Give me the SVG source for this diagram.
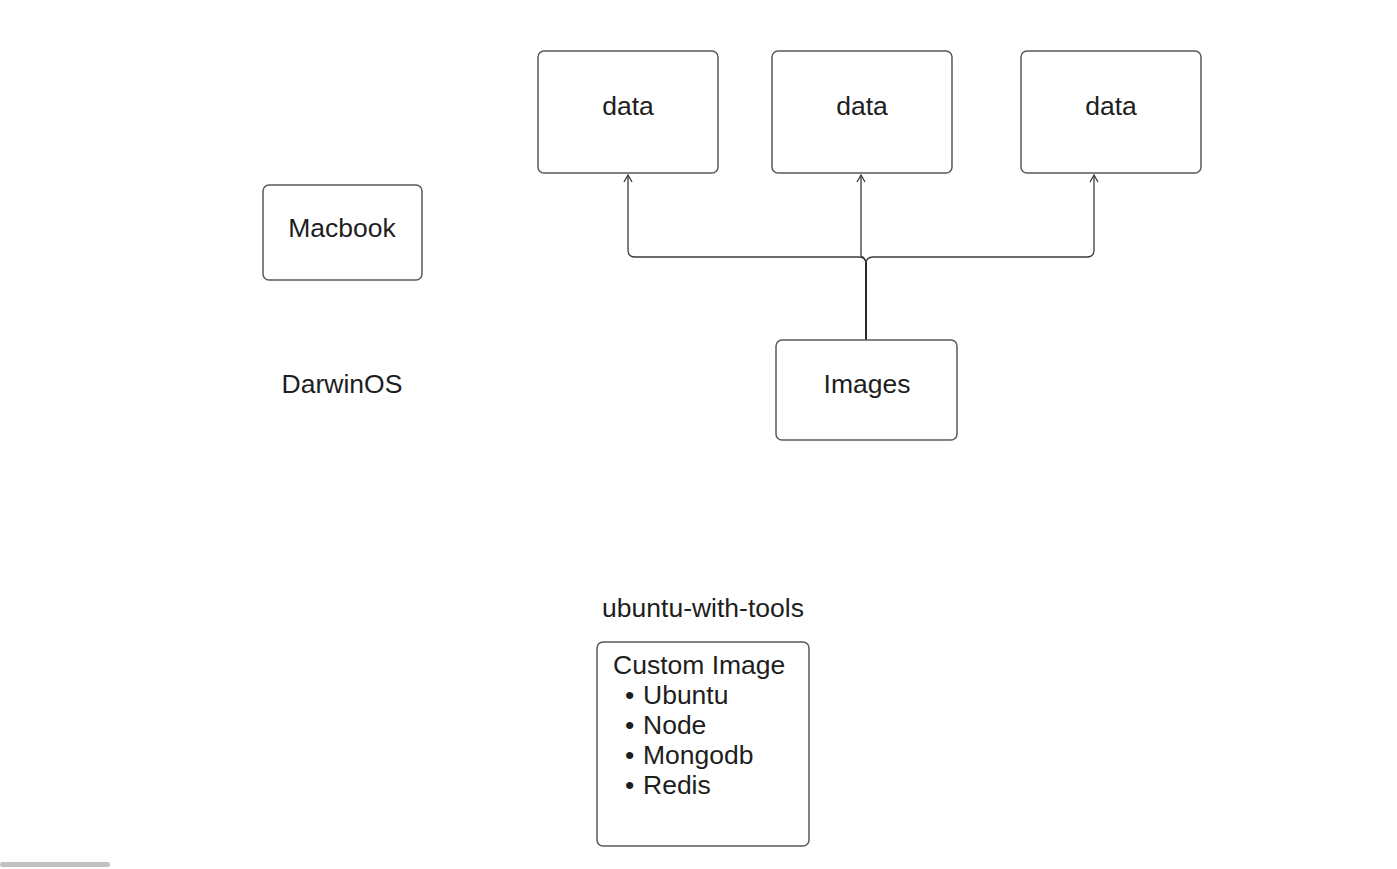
<svg xmlns="http://www.w3.org/2000/svg" width="1397" height="869" viewBox="0 0 1397 869">
  <style>
    .box { fill: #ffffff; stroke: #5a5a5a; stroke-width: 1.5; }
    .lbl { font-family: "Liberation Sans", Arial, sans-serif; font-size: 26.5px; fill: #1e1e1e; }
    .mid { text-anchor: middle; }
    .conn { fill: none; stroke: #3a3a3a; stroke-width: 1.3; }
  </style>
  <defs>
    <marker id="arr" viewBox="0 0 12 12" refX="10" refY="6" markerWidth="12" markerHeight="12" markerUnits="userSpaceOnUse" orient="auto">
      <path d="M3,2 L10,6 L3,10" fill="none" stroke="#3a3a3a" stroke-width="1.3"/>
    </marker>
  </defs>
  <rect width="1397" height="869" fill="#ffffff"/>

  <g id="connectors">
    <path class="conn" d="M866,340 V264 Q866,257 859,257 H635 Q628,257 628,250 V175" marker-end="url(#arr)"/>
    <path class="conn" d="M866,340 V264 Q866,257 873,257 H1087 Q1094,257 1094,250 V175" marker-end="url(#arr)"/>
    <path class="conn" d="M866,264 Q866,258 861,256 V175" marker-end="url(#arr)"/>
    <path fill="none" stroke="#2a2a2a" stroke-width="2" d="M866,340 V262"/>
  </g>

  <g id="data1">
    <rect class="box" x="538" y="51" width="180" height="122" rx="6"/>
    <text class="lbl mid" x="628" y="115">data</text>
  </g>
  <g id="data2">
    <rect class="box" x="772" y="51" width="180" height="122" rx="6"/>
    <text class="lbl mid" x="862" y="115">data</text>
  </g>
  <g id="data3">
    <rect class="box" x="1021" y="51" width="180" height="122" rx="6"/>
    <text class="lbl mid" x="1111" y="115">data</text>
  </g>
  <g id="macbook">
    <rect class="box" x="263" y="185" width="159" height="95" rx="6"/>
    <text class="lbl mid" x="342" y="237">Macbook</text>
  </g>
  <g id="darwinos">
    <text class="lbl mid" x="342" y="393">DarwinOS</text>
  </g>
  <g id="images">
    <rect class="box" x="776" y="340" width="181" height="100" rx="6"/>
    <text class="lbl mid" x="867" y="393">Images</text>
  </g>
  <g id="ubuntu-with-tools-label">
    <text class="lbl mid" x="703" y="617">ubuntu-with-tools</text>
  </g>
  <g id="custom-image">
    <rect class="box" x="597" y="642" width="212" height="204" rx="6"/>
    <text class="lbl" x="613" y="674">Custom Image</text>
    <text class="lbl" x="625" y="704">• <tspan x="643">Ubuntu</tspan></text>
    <text class="lbl" x="625" y="734">• <tspan x="643">Node</tspan></text>
    <text class="lbl" x="625" y="764">• <tspan x="643">Mongodb</tspan></text>
    <text class="lbl" x="625" y="794">• <tspan x="643">Redis</tspan></text>
  </g>

  <rect x="0" y="862" width="110" height="5" rx="2.5" fill="#c1c1c1"/>
</svg>
